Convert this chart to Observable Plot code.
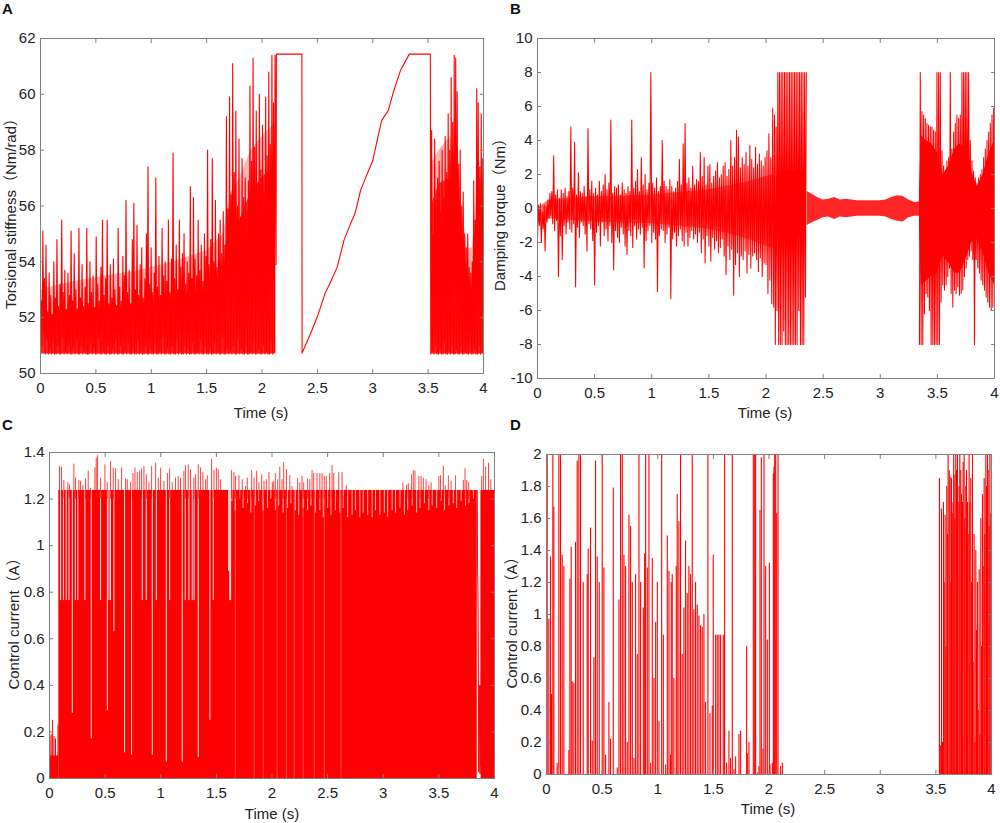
<!DOCTYPE html>
<html><head><meta charset="utf-8">
<script src="https://cdn.jsdelivr.net/npm/d3@7"></script>
<script src="https://cdn.jsdelivr.net/npm/@observablehq/plot@0.6"></script>
<style>
body{margin:0;background:#fff;}
#root{position:relative;width:1000px;height:823px;overflow:hidden;background:#fff;font-family:Arial,"Liberation Sans",sans-serif;color:#222;}
.p{position:absolute;}
.lab{position:absolute;font-size:15px;white-space:nowrap;transform:translate(-50%,-50%);font-family:Arial,"Liberation Sans","Noto Sans CJK SC",sans-serif;color:#222;}
.ylab{transform:translate(-50%,-50%) rotate(-90deg);}
.letter{position:absolute;font-weight:bold;font-size:15px;font-family:Arial,"Liberation Sans",sans-serif;color:#111;}
</style></head><body><div id="root"></div><script>
// ---------- tick labels ----------
const xTicks = [0,0.5,1,1.5,2,2.5,3,3.5,4];
const aYTicks = [50,52,54,56,58,60,62];
const bYTicks = [-10,-8,-6,-4,-2,0,2,4,6,8,10];
const cYTicks = [0,0.2,0.4,0.6,0.8,1,1.2,1.4];
const dYTicks = [0,0.2,0.4,0.6,0.8,1,1.2,1.4,1.6,1.8,2];

// ---------- Panel A: torsional stiffness ----------
const aLo1 = [
51.9,51.0,51.4,50.7,51.2,50.7,50.9,50.7,51.1,50.7,
50.7,51.0,50.7,50.7,51.3,50.7,50.8,50.7,51.0,50.7,
50.7,50.9,50.7,51.2,50.7,50.7,51.0,50.7,50.8,50.7,
50.7,50.7,51.1,50.7,50.9,50.7,50.7,51.3,50.7,50.7,
50.8,50.7,50.7,51.0,50.7,50.7,50.9,50.7,51.2,50.7,
50.7,51.0,50.7,50.7,50.8,50.7,51.1,50.7,50.7,50.9,
50.7,50.7,51.2,50.7,50.8,50.7,50.7,51.0,50.7,50.7,
50.9,50.7,50.7,51.1,50.7,50.7,50.8,50.7,51.3,50.7,
50.7,50.9,50.7,50.7,51.0,50.7,50.7,51.2,50.7,50.8,
50.7,50.7,51.0,50.7,50.9,50.7,50.7,51.1,50.7,50.7,
50.8,50.7,51.2,50.7,50.7,51.0,50.7,50.7,50.9,50.7,
50.7,51.1,50.7,50.8,50.7,50.7,51.3,50.7,50.7,50.9,
50.7,50.8,50.7,51.0,50.7,50.7,51.2,50.7,50.9,50.7,
50.7,51.0,50.7,50.7,50.8,50.7,51.1,50.7,50.7,50.9,
50.7,50.7,51.0,50.7,50.8,50.7,50.7,51.1,50.7,50.8];
const aHi1 = [
52.6,55.1,53.4,54.6,52.2,53.6,52.8,52.1,54.0,52.7,
54.8,52.4,53.2,55.5,52.9,53.7,52.3,53.6,52.8,55.1,
52.6,54.3,53.0,52.2,55.2,52.7,53.9,52.4,53.1,55.2,
52.5,54.0,52.9,53.5,52.3,54.9,53.2,52.6,53.8,55.5,
52.8,53.4,55.5,52.5,53.9,52.7,54.1,53.0,52.4,55.2,
53.1,52.6,54.2,53.5,56.2,52.9,53.7,52.5,54.8,56.1,
53.0,55.3,52.8,53.9,54.5,52.7,53.4,55.0,57.4,53.2,
54.5,52.9,53.6,57.0,53.1,54.2,52.8,55.2,53.5,54.0,
53.3,55.5,52.9,54.1,57.9,53.4,54.6,53.0,55.5,53.8,
54.3,55.0,53.2,54.0,53.6,56.7,53.4,56.3,54.1,53.5,
55.5,53.7,54.6,53.3,55.0,54.2,58.0,53.9,54.8,57.7,
54.0,56.2,53.8,55.0,55.5,54.3,55.8,54.6,59.2,55.9,
59.9,56.4,61.1,57.2,59.4,56.0,58.4,55.6,57.7,56.3,
57.0,55.8,56.9,60.3,57.6,61.3,58.1,59.4,56.8,60.0,
57.3,58.9,56.5,59.9,57.8,60.8,58.2,61.4,59.7,61.4];
// dense core of segment 1 (upper edge of the solid band) and its fainter fringe
const aCore1T    = [0,0.3,0.6,0.9,1.2,1.5,1.65,1.72,1.8,1.9,2.0,2.125];
const aCore1Hi   = [52.0,52.3,52.4,52.5,52.7,53.0,53.6,55.0,55.5,56.5,57.0,57.5];
const aFringe1Hi = [53.0,53.3,53.5,53.7,54.0,54.4,55.0,56.5,57.0,58.0,58.5,59.0];
const aMidT = [2.127,2.13,2.36,2.362,2.44,2.5,2.57,2.62,2.68,2.74,2.80,2.84,2.89,2.95,3.0,3.04,3.08,3.14,3.19,3.25,3.33,3.52,3.525];
const aMidV = [53.9,61.44,61.44,50.73,51.44,52.04,52.87,53.29,53.82,54.77,55.37,55.73,56.56,57.15,57.63,58.35,59.06,59.42,60.13,60.85,61.44,61.44,50.73];
const aLo2 = [50.7,50.8,50.7,51.0,50.7,50.7,50.9,50.7,50.7,51.1,50.7,50.7,50.8,50.7,51.0,50.7,50.7,50.9,50.7,50.7,51.0,50.7,50.7,50.8,50.7,50.7,51.1,50.7,50.7,50.9,50.7,50.7,51.0,50.7,50.8];
const aHi2 = [58.7,55.0,58.4,56.2,57.0,57.6,55.8,58.0,56.3,58.5,57.2,59.3,58.0,60.6,59.0,61.4,61.3,60.1,57.5,58.0,56.0,56.5,55.0,54.5,55.0,53.8,53.6,54.0,56.9,55.5,60.2,59.7,57.4,59.3,57.7];
const aCore2T    = [3.527,3.6,3.7,3.78,3.85,3.9,3.95,4.0];
const aCore2Hi   = [56.0,56.8,57.0,55.5,53.5,53.0,55.0,55.5];
const aFringe2Hi = [57.5,58.0,58.5,57.0,54.5,54.5,57.0,57.0];
const aBase = 50.7;

// ---------- Panel B: damping torque ----------
const bHi1 = [
0.2,0.3,-0.2,0.2,0.1,0.5,
0.9,1.0,3.1,0.8,1.1,0.6,
1.1,0.9,1.2,0.7,1.0,4.8,
1.2,3.9,0.8,2.1,1.0,0.9,
1.3,0.7,4.7,1.1,1.6,0.9,
1.2,0.8,1.6,1.0,1.4,2.0,
1.1,1.5,5.2,0.9,1.3,1.2,
1.4,0.8,1.5,1.1,0.9,1.3,
1.0,5.2,1.2,1.6,2.3,1.0,
3.0,1.4,2.0,1.1,1.5,8.0,
1.5,1.2,1.8,1.0,1.3,4.0,
1.6,1.3,1.1,1.7,1.3,1.0,
1.2,1.6,2.9,1.4,3.8,5.0,
1.5,1.8,1.2,2.5,1.4,1.7,
1.6,3.3,1.9,3.0,1.4,2.5,
2.6,1.5,1.9,2.2,2.7,1.8,
2.0,2.5,2.7,1.9,2.3,4.0,
2.5,3.0,4.6,4.2,2.4,3.0,
2.6,3.3,2.5,3.7,2.9,2.4,
3.6,2.6,3.2,2.8,2.5,3.0,
3.4,4.4,3.0,5.9];
const bLo1 = [
-1.8,-1.0,-2.0,-1.2,-2.5,-0.8,
-0.6,-0.4,-0.9,-1.3,-0.7,-4.0,
-1.6,-3.0,-1.0,-1.5,-0.8,-1.2,
-1.4,-0.9,-4.6,-1.1,-1.7,-0.8,
-1.0,-1.5,-2.5,-0.9,-1.2,-1.9,
-4.5,-1.4,-1.0,-2.2,-0.8,-1.6,
-1.2,-1.9,-1.0,-2.0,-3.6,-1.3,
-1.7,-2.0,-1.1,-1.5,-2.2,-2.7,
-1.3,-1.6,-2.3,-1.0,-1.8,-1.2,
-1.5,-1.1,-3.5,-1.9,-1.3,-1.0,
-2.0,-1.4,-1.8,-4.9,-1.6,-1.2,
-1.3,-2.0,-1.5,-1.1,-5.3,-1.8,
-1.4,-2.2,-1.6,-1.2,-1.9,-2.2,
-1.4,-2.2,-1.7,-1.3,-1.8,-1.5,
-2.0,-1.4,-2.6,-1.8,-3.2,-1.6,
-2.2,-3.1,-1.7,-2.4,-1.9,-2.6,
-2.3,-1.8,-2.8,-3.9,-2.2,-3.0,
-2.4,-5.1,-3.3,-2.6,-4.0,-2.8,
-3.0,-2.5,-3.8,-2.7,-3.5,-2.8,
-2.6,-3.0,-3.7,-2.9,-4.0,-3.2,
-3.3,-5.0,-4.2,-5.6];
const bCore1T  = [0,0.1,0.5,1.0,1.5,1.8,2.067];
const bCore1Hi = [0.0,0.5,0.7,0.8,1.1,1.5,2.0];
const bCore1Lo = [-0.9,-0.6,-0.8,-0.9,-1.2,-1.7,-2.4];
const bHi2 = [5.5,4.8,8,8,8,8,8,8,8,8,8,8,8,8,8,8,8,8,8,8];
const bLo2 = [-5.8,-8,-6.0,-8,-8,-8,-7.2,-8,-8,-8,-8,-8,-8,-8,-8,-6.0,-8,-8,-8,-5.2];
const bMidT  = [2.36,2.40,2.45,2.5,2.55,2.6,2.65,2.7,2.75,2.8,2.9,3.0,3.05,3.1,3.15,3.2,3.25,3.3,3.35];
const bMidHi = [1.0,0.85,0.65,0.5,0.55,0.65,0.5,0.55,0.5,0.45,0.45,0.45,0.5,0.65,0.75,0.7,0.5,0.35,0.4];
const bMidLo = [-1.0,-0.85,-0.7,-0.55,-0.5,-0.65,-0.5,-0.55,-0.5,-0.45,-0.45,-0.45,-0.5,-0.65,-0.75,-0.8,-0.55,-0.45,-0.45];
const bHi3 = [8,5.7,5.5,5.3,5.0,4.9,4.8,4.8,4.6,4.5,8,8,8,3.4,2.5,2.2,2.8,3.0,8,3.5,4.5,5.0,5.5,5.3,5.5,8,8,8,8,8,4.0,2.8,2.2,1.8,1.5,1.8,2.0,2.3,3.0,3.5,4.0,4.5,5.0,5.5,5.9];
const bLo3 = [-8,-8,-8,-6.2,-5.0,-5.2,-6.0,-8,-8,-8,-8,-8,-8,-5.5,-4.5,-4.8,-4.5,-4.0,-3.5,-5.0,-5.8,-4.8,-5.0,-4.6,-5.1,-5.0,-4.8,-4.0,-3.5,-3.0,-2.8,-2.5,-3.0,-8,-3.0,-3.5,-3.8,-4.2,-4.5,-4.8,-5.2,-5.5,-5.8,-6.0,-5.8];
const bCoreT  = [3.343,3.36,3.40,3.45,3.50,3.55,3.60,3.65,3.70,3.75,3.80,3.85,3.90,3.95,4.0];
const bCoreHi = [1.0,4.3,4.0,3.8,3.3,2.0,2.5,3.5,3.8,3.5,2.2,1.3,2.0,3.2,4.0];
const bCoreLo = [-1.0,-4.5,-4.3,-4.0,-3.8,-2.8,-3.2,-3.8,-3.8,-3.0,-2.0,-1.8,-2.6,-3.8,-4.5];

// ---------- Panel C: control current ----------
const cTopLevel = 1.237;
const cBlocks = [[0,0.084,0,0.097],[0.084,3.845,0,1.237],[3.88,4.0,0,1.237]];
const cLowSpikes = [[0.004,0.18],[0.015,0.19],[0.028,0.25],[0.04,0.18],[0.054,0.17],[0.076,0.23]];
const cGaps = [[0.1,0.764],[0.125,0.764],[0.15,0.764],[0.175,0.764],[0.205,0.28],[0.232,0.764],[0.255,0.764],
[0.318,0.764],[0.375,0.17],[0.459,0.764],[0.52,0.29],[0.534,0.764],[0.548,0.764],[0.579,0.63],[0.675,0.11],[0.738,0.10],[0.834,0.764],[0.87,0.764],[0.924,0.10],[0.96,0.764],
[1.05,0.07],[1.08,0.764],[1.193,0.07],[1.22,0.764],[1.253,0.764],[1.283,0.764],[1.30,0.764],[1.337,0.09],[1.442,0.25],[1.472,0.764],[1.61,0.89],[1.62,0.764],[1.628,0.764]];
const cTexT = [1.64,1.67,1.71,1.74,1.78,1.81,1.85,1.88,1.92,1.96,
1.99,2.03,2.06,2.10,2.14,2.17,2.21,2.24,2.28,2.32,
2.35,2.39,2.43,2.46,2.50,2.53,2.57,2.61,2.64,2.68,
2.72,2.75,2.79,2.82,2.86,2.90,2.93,2.97,3.01,3.04,
3.08,3.11,3.15,3.19,3.22,3.26,3.30,3.33,3.37,3.41,
3.44,3.48,3.52,3.55,3.59,3.63,3.66,3.70,3.74,3.77,3.81];
const cTexLo = [1.19,1.15,1.20,1.16,1.18,1.14,1.17,1.19,1.15,1.16,
1.20,1.15,1.17,1.14,1.16,1.18,1.15,1.13,1.16,1.15,
1.17,1.14,1.15,1.12,1.16,1.13,1.15,1.14,1.16,1.12,
1.13,1.15,1.12,1.14,1.13,1.12,1.15,1.13,1.14,1.12,
1.15,1.14,1.16,1.13,1.15,1.17,1.14,1.16,1.18,1.15,
1.17,1.16,1.19,1.15,1.17,1.18,1.16,1.19,1.17,1.18,1.20];
const cFaintT = [1.67,1.84,1.92,2.045,2.13,2.2,2.28,2.38,2.47,2.62];
const cSpikes = [[0.09,1.34],[0.108,1.337],[0.129,1.28],[0.165,1.27],[0.18,1.26],[0.219,1.35],[0.234,1.29],[0.264,1.28],[0.279,1.276],[0.3,1.257],
[0.324,1.287],[0.348,1.32],[0.369,1.247],[0.408,1.333],[0.42,1.376],[0.432,1.386],[0.459,1.29],[0.498,1.347],[0.519,1.27],[0.549,1.36],
[0.573,1.333],[0.594,1.33],[0.618,1.283],[0.648,1.333],[0.684,1.286],[0.699,1.283],[0.729,1.27],[0.75,1.31],[0.768,1.333],[0.789,1.314],
[0.81,1.32],[0.828,1.33],[0.849,1.34],[0.87,1.304],[0.894,1.27],[0.918,1.34],[0.954,1.354],[0.978,1.29],[0.999,1.333],[1.029,1.276],
[1.06,1.31],[1.08,1.33],[1.103,1.27],[1.133,1.29],[1.157,1.297],[1.178,1.29],[1.208,1.32],[1.223,1.343],[1.247,1.347],[1.268,1.326],
[1.298,1.29],[1.313,1.304],[1.337,1.347],[1.358,1.333],[1.379,1.314],[1.403,1.283],[1.418,1.3],[1.457,1.371],[1.478,1.323],[1.5,1.333],
[1.517,1.326],[1.538,1.283],[1.637,1.323],[1.658,1.314],[1.673,1.297],[1.703,1.3],[1.733,1.283],[1.763,1.254],[1.778,1.29],[1.817,1.323],
[1.838,1.29],[1.862,1.32],[1.883,1.27],[1.907,1.304],[1.928,1.276],[1.949,1.283],[1.973,1.314],[2.003,1.27],[2.015,1.276],[2.03,1.31],
[2.051,1.283],[2.07,1.337],[2.09,1.283],[2.105,1.357],[2.13,1.326],[2.16,1.3],[2.18,1.254],[2.23,1.287],[2.25,1.27],[2.27,1.297],
[2.285,1.27],[2.32,1.286],[2.34,1.283],[2.36,1.323],[2.375,1.31],[2.405,1.31],[2.43,1.31],[2.45,1.31],[2.47,1.297],[2.488,1.297],
[2.518,1.31],[2.54,1.343],[2.555,1.31],[2.6,1.314],[2.63,1.314],[2.668,1.257],[3.177,1.27],[3.21,1.26],[3.225,1.266],[3.255,1.304],
[3.27,1.323],[3.285,1.32],[3.32,1.297],[3.34,1.297],[3.36,1.29],[3.385,1.283],[3.41,1.26],[3.43,1.27],[3.5,1.297],[3.515,1.3],
[3.54,1.34],[3.557,1.257],[3.585,1.3],[3.61,1.276],[3.65,1.3],[3.72,1.28],[3.735,1.33],[3.75,1.28],[3.768,1.27],[3.885,1.297],
[3.9,1.371],[3.92,1.337],[3.946,1.354],[3.967,1.283]];
const cDropT = [3.845,3.848,3.852,3.858,3.864,3.87,3.874,3.878,3.88];
const cDropV = [1.237,0.9,0.77,0.03,0.4,0.02,0.4,0.05,1.237];

// ---------- Panel D: control current ----------
const dSpikes = [[0.006,2.0],[0.021,0.97],[0.036,1.36],[0.045,0.5],[0.057,2.0],[0.066,1.67],[0.096,0.07],[0.111,2.0],[0.126,2.0],[0.141,1.37],
[0.156,1.3],[0.201,0.15],[0.21,1.22],[0.222,1.42],[0.231,0.58],[0.246,0.57],[0.261,1.45],[0.276,1.96],[0.291,2.0],[0.306,2.0],
[0.33,1.2],[0.366,1.25],[0.375,1.41],[0.396,1.54],[0.411,0.21],[0.426,0.73],[0.441,1.96],[0.456,1.36],[0.474,1.2],[0.501,2.0],
[0.516,1.29],[0.531,0.12],[0.561,0.45],[0.576,0.22],[0.6,1.79],[0.636,0.04],[0.651,1.09],[0.666,2.0],[0.681,2.0],[0.696,1.37],
[0.711,1.3],[0.726,0.2],[0.741,1.62],[0.756,1.55],[0.771,1.2],[0.786,0.1],[0.801,1.25],[0.816,0.75],[0.831,2.0],[0.846,1.2],
[0.87,1.04],[0.882,1.38],[0.891,2.0],[0.906,1.29],[0.921,2.0],[0.936,0.07],[0.951,1.35],[0.966,0.6],[0.981,0.95],[0.996,1.2],
[1.011,0.33],[1.035,2.0],[1.05,0.87],[1.071,0.06],[1.086,1.49],[1.101,1.27],[1.115,0.12],[1.121,1.2],[1.13,1.25],[1.145,0.6],
[1.166,1.3],[1.175,1.75],[1.19,1.58],[1.205,2.0],[1.22,0.75],[1.235,1.04],[1.25,1.46],[1.265,1.13],[1.28,1.3],[1.295,1.25],
[1.31,2.0],[1.325,1.03],[1.34,1.2],[1.355,1.06],[1.37,0.99],[1.385,0.93],[1.4,0.92],[1.415,1.0],[1.43,0.45],[1.451,2.0],
[1.469,0.38],[1.49,0.43],[1.499,1.37],[1.52,0.87],[1.535,0.87],[1.55,0.87],[1.565,0.87],[1.589,0.87],[1.601,2.0],[1.619,0.07],
[1.64,0.27],[1.655,0.1],[1.67,2.0],[1.685,0.03],[1.7,0.11],[1.73,0.25],[1.745,0.27],[1.799,0.8],[1.805,0.13],[1.82,0.2],
[1.859,2.0],[1.871,2.0],[1.88,2.0],[1.895,0.01],[1.91,0.05],[1.919,1.65],[1.931,1.98],[1.946,0.16],[1.955,2.0],[1.97,1.3],
[1.985,0.84],[2.003,1.32],[2.009,0.06],[2.03,0.07],[2.039,1.88],[2.045,1.92],[2.051,2.0],[2.06,2.0],[2.069,1.63],[2.081,2.0],
[2.105,0.05],[2.12,0.07],
[3.532,1.85],[3.54,0.18],[3.55,1.66],[3.56,0.2],[3.568,1.7],[3.575,1.2],[3.583,1.62],[3.59,0.8],[3.598,1.8],[3.605,1.5],
[3.61,2.0],[3.62,1.9],[3.628,1.86],[3.635,1.2],[3.64,1.85],[3.645,1.7],[3.652,1.63],[3.66,2.0],[3.664,1.87],[3.67,1.6],
[3.679,2.0],[3.685,1.9],[3.694,2.0],[3.7,1.7],[3.709,1.8],[3.715,2.0],[3.724,1.9],[3.73,1.75],[3.739,1.7],[3.745,1.95],
[3.754,2.0],[3.76,1.6],[3.769,1.8],[3.775,1.9],[3.784,1.7],[3.79,1.5],[3.799,2.0],[3.805,1.7],[3.814,1.85],[3.82,1.2],
[3.829,2.0],[3.835,0.7],[3.844,1.5],[3.85,0.2],[3.859,1.4],[3.865,0.9],[3.874,1.2],[3.88,0.4],[3.889,1.28],[3.895,0.25],
[3.904,1.6],[3.91,0.8],[3.919,1.75],[3.925,1.3],[3.934,1.85],[3.94,1.5],[3.949,2.0],[3.955,1.8],[3.964,2.0],[3.97,1.9],
[3.979,1.55],[3.985,2.0],[3.994,1.63],[3.999,2.0]];

// ---------- helpers ----------
const RED = "#ff0000";
const GRID = "#7f7f7f";
function zig(t0, t1, lo, hi) {
  const n = lo.length, dt = (t1 - t0) / n, out = [];
  for (let i = 0; i < n; i++) {
    out.push({t: t0 + i * dt, v: lo[i]});
    out.push({t: t0 + (i + 0.5) * dt, v: hi[i]});
  }
  return out;
}
const pairs = (T, V) => T.map((t, i) => ({t, v: V[i]}));
const bands = (T, L, H) => T.map((t, i) => ({t, lo: L[i], hi: H[i]}));

const root = document.getElementById("root");
function panel(cfg) {
  const {left, top, width, height, ml, mr, mt, mb, ydom, yticks, marks} = cfg;
  const fmt = d => String(d);
  const svg = Plot.plot({
    width, height, marginLeft: ml, marginRight: mr, marginTop: mt, marginBottom: mb,
    x: {domain: [0, 4]}, y: {domain: ydom},
    style: {fontFamily: "Arial, 'Liberation Sans', sans-serif", fontSize: "15px", color: "#222", background: "transparent", overflow: "visible"},
    marks: [
      ...marks,
      Plot.frame({stroke: GRID}),
      Plot.axisX(xTicks, {anchor: "bottom", tickSize: 0, tickPadding: 9, tickFormat: fmt, label: null, fill: "#222"}),
      Plot.axisY(yticks, {anchor: "left", tickSize: 0, tickPadding: 5, tickFormat: fmt, label: null, fill: "#222"}),
      Plot.axisX(xTicks, {anchor: "bottom", tickSize: 4, dy: -4, fill: "none", stroke: GRID, label: null}),
      Plot.axisX(xTicks, {anchor: "top", tickSize: 4, dy: 4, fill: "none", stroke: GRID, label: null}),
      Plot.axisY(yticks, {anchor: "left", tickSize: 4, dx: 4, fill: "none", stroke: GRID, label: null}),
      Plot.axisY(yticks, {anchor: "right", tickSize: 4, dx: -4, fill: "none", stroke: GRID, label: null})
    ]
  });
  const div = document.createElement("div");
  div.className = "p";
  div.style.left = left + "px"; div.style.top = top + "px";
  div.appendChild(svg);
  root.appendChild(div);
}
function text(cls, str, x, y) {
  const d = document.createElement("div");
  d.className = cls; d.textContent = str;
  d.style.left = x + "px"; d.style.top = y + "px";
  root.appendChild(d);
}

// ---------- Panel A ----------
const aPts = [...zig(0, 2.125, aLo1, aHi1), ...pairs(aMidT, aMidV), ...zig(3.525, 4.0, aLo2, aHi2)];
panel({left: 0, top: 0, width: 500, height: 400, ml: 40, mr: 17, mt: 38, mb: 27, ydom: [50, 62], yticks: aYTicks,
  marks: [
    Plot.areaY(pairs(aCore1T, aFringe1Hi), {x: "t", y1: () => aBase, y2: "v", fill: RED, fillOpacity: 0.3, clip: true}),
    Plot.areaY(pairs(aCore2T, aFringe2Hi), {x: "t", y1: () => aBase, y2: "v", fill: RED, fillOpacity: 0.3, clip: true}),
    Plot.areaY(pairs(aCore1T, aCore1Hi), {x: "t", y1: () => aBase, y2: "v", fill: RED, fillOpacity: 0.8, clip: true}),
    Plot.areaY(pairs(aCore2T, aCore2Hi), {x: "t", y1: () => aBase, y2: "v", fill: RED, fillOpacity: 0.8, clip: true}),
    Plot.line(aPts, {x: "t", y: "v", stroke: RED, strokeWidth: 1.1, clip: true})
  ]});

// ---------- Panel B ----------
const bPts1 = [...zig(0, 2.067, bLo1, bHi1), ...zig(2.067, 2.36, bLo2, bHi2)];
const bPts3 = zig(3.343, 4.0, bLo3, bHi3);
panel({left: 500, top: 0, width: 500, height: 400, ml: 37, mr: 6, mt: 38, mb: 22, ydom: [-10, 10], yticks: bYTicks,
  marks: [
    Plot.areaY(bands(bCore1T, bCore1Lo, bCore1Hi), {x: "t", y1: "lo", y2: "hi", fill: RED, fillOpacity: 0.55, clip: true}),
    Plot.areaY(bands(bMidT, bMidLo, bMidHi), {x: "t", y1: "lo", y2: "hi", fill: RED, fillOpacity: 0.85, clip: true}),
    Plot.areaY(bands(bCoreT, bCoreLo, bCoreHi), {x: "t", y1: "lo", y2: "hi", fill: RED, clip: true}),
    Plot.line(bPts1, {x: "t", y: "v", stroke: RED, strokeWidth: 1.05, clip: true}),
    Plot.line(bPts3, {x: "t", y: "v", stroke: RED, strokeWidth: 1.05, clip: true})
  ]});

// ---------- Panel C ----------
panel({left: 0, top: 411, width: 500, height: 389, ml: 49, mr: 6, mt: 41, mb: 22, ydom: [0, 1.4], yticks: cYTicks,
  marks: [
    Plot.rect(cBlocks, {x1: d => d[0], x2: d => d[1], y1: d => d[2], y2: d => d[3], fill: RED, clip: true}),
    Plot.ruleX(cLowSpikes, {x: d => d[0], y1: 0, y2: d => d[1], stroke: RED, strokeWidth: 1, clip: true}),
    Plot.ruleX(cGaps, {x: d => d[0], y1: d => d[1], y2: () => cTopLevel, stroke: "#fff", strokeWidth: 0.9, clip: true}),
    Plot.ruleX(cTexT, {x: d => d, y1: (d, i) => cTexLo[i], y2: () => cTopLevel, stroke: "#fff", strokeWidth: 1, strokeOpacity: 0.7, clip: true}),
    Plot.ruleX(cFaintT, {x: d => d, y1: 0, y2: () => cTopLevel, stroke: "#fff", strokeWidth: 1, strokeOpacity: 0.3, clip: true}),
    Plot.ruleX(cSpikes, {x: d => d[0], y1: () => 1.2, y2: d => d[1], stroke: RED, strokeWidth: 1, strokeOpacity: 0.75, clip: true}),
    Plot.line(pairs(cDropT, cDropV), {x: "t", y: "v", stroke: RED, strokeWidth: 1, clip: true})
  ]});

// ---------- Panel D ----------
panel({left: 500, top: 411, width: 500, height: 389, ml: 46, mr: 9, mt: 43, mb: 26, ydom: [0, 2], yticks: dYTicks,
  marks: [
    Plot.ruleY([0], {stroke: RED, strokeWidth: 1.2}),
    Plot.ruleX(dSpikes, {x: d => d[0], y1: 0, y2: d => d[1], stroke: RED, strokeWidth: 1.1, clip: true})
  ]});

// ---------- labels ----------
text("letter", "A", 2, 0);
text("letter", "B", 510, 0);
text("letter", "C", 2, 416);
text("letter", "D", 510, 416);
text("lab", "Time (s)", 261, 412);
text("lab", "Time (s)", 765, 412);
text("lab", "Time (s)", 272, 813);
text("lab", "Time (s)", 768, 808);
text("lab ylab", "Torsional stiffness（Nm/rad）", 9, 210);
text("lab ylab", "Damping torque（Nm）", 498, 211);
text("lab ylab", "Control current（A）", 12, 620);
text("lab ylab", "Control current（A）", 510, 619);
</script></body></html>
